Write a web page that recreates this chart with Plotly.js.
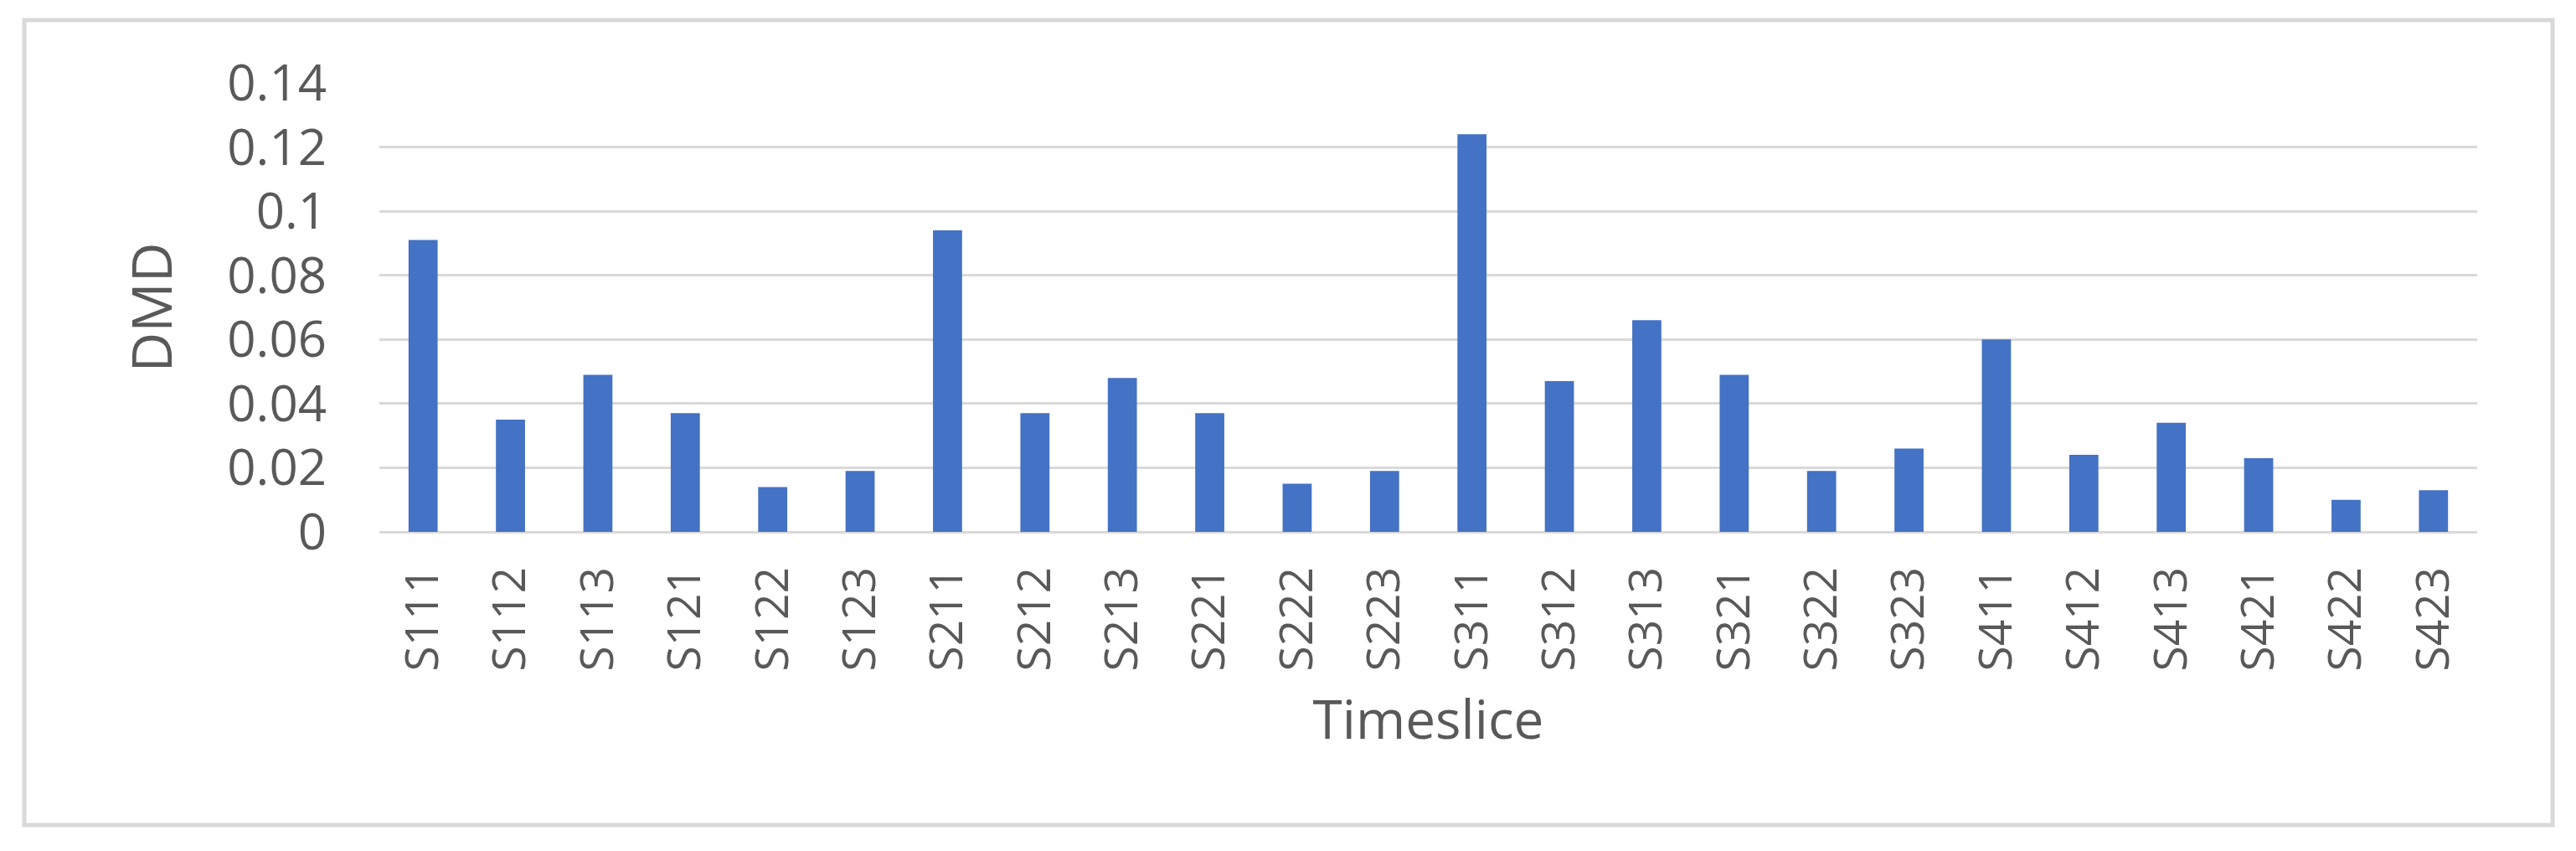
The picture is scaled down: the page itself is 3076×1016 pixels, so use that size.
<!DOCTYPE html>
<html>
<head>
<meta charset="utf-8">
<script src="https://cdn.plot.ly/plotly-3.0.1.min.js"></script>
<style>
  html, body { margin: 0; padding: 0; background: #ffffff; }
  #chart { width: 3076px; height: 1016px; }
</style>
</head>
<body>
<div id="chart"></div>
<script>
// ---- data ----
const timeslices = ["S111","S112","S113","S121","S122","S123",
                    "S211","S212","S213","S221","S222","S223",
                    "S311","S312","S313","S321","S322","S323",
                    "S411","S412","S413","S421","S422","S423"];
const dmdValues = [0.091, 0.035, 0.049, 0.037, 0.014, 0.019,
                   0.094, 0.037, 0.048, 0.037, 0.015, 0.019,
                   0.124, 0.047, 0.066, 0.049, 0.019, 0.026,
                   0.060, 0.024, 0.034, 0.023, 0.010, 0.013];
const yTickVals = [0, 0.02, 0.04, 0.06, 0.08, 0.1, 0.12, 0.14];
const yTickText = ["0", "0.02", "0.04", "0.06", "0.08", "0.1", "0.12", "0.14"];
const xTitle = "Timeslice";
const yTitle = "DMD";

// ---- layout geometry (pixels) ----
const W = 3076, H = 1016;
const plotL = 453, plotR = 2958, plotT = 99, plotB = 635;
const px2paperX = px => (px - plotL) / (plotR - plotL);
const px2paperY = py => (plotB - py) / (plotB - plotT);

const FONT = "Open Sans, DejaVu Sans, sans-serif";
const TXT = "#595959";
const GRID = "#d9d9d9";

const trace = {
  type: "bar",
  x: timeslices,
  y: dmdValues,
  marker: { color: "#4472C4", line: { width: 0 } },
  hoverinfo: "x+y"
};

const layout = {
  width: W,
  height: H,
  margin: { l: plotL, r: W - plotR, t: plotT, b: H - plotB, pad: 0 },
  paper_bgcolor: "#ffffff",
  plot_bgcolor: "#ffffff",
  showlegend: false,
  bargap: 0.667,
  font: { family: FONT, color: TXT },
  xaxis: {
    type: "category",
    automargin: false,
    tickangle: -90,
    tickfont: { family: FONT, size: 55, color: TXT },
    ticks: "",
    showgrid: false,
    showline: false,
    zeroline: false,
    ticklabelstandoff: 30,
    title: { text: xTitle, font: { family: FONT, size: 64, color: TXT }, standoff: 36 }
  },
  yaxis: {
    automargin: false,
    range: [0, 0.14],
    tickmode: "array",
    tickvals: yTickVals,
    ticktext: yTickText,
    tickfont: { family: FONT, size: 60, color: TXT },
    ticks: "",
    showgrid: true,
    gridcolor: GRID,
    gridwidth: 3,
    zeroline: true,
    zerolinecolor: GRID,
    zerolinewidth: 3,
    showline: false,
    ticklabelstandoff: 62,
    title: { text: yTitle, font: { family: FONT, size: 66, color: TXT }, standoff: 44 }
  },
  shapes: [{
    type: "rect",
    xref: "paper", yref: "paper",
    x0: px2paperX(29), x1: px2paperX(3048),
    y0: px2paperY(985), y1: px2paperY(24),
    line: { color: GRID, width: 5 },
    fillcolor: "rgba(0,0,0,0)",
    layer: "below"
  }]
};

Plotly.newPlot("chart", [trace], layout, { displayModeBar: false, staticPlot: true });
</script>
</body>
</html>
